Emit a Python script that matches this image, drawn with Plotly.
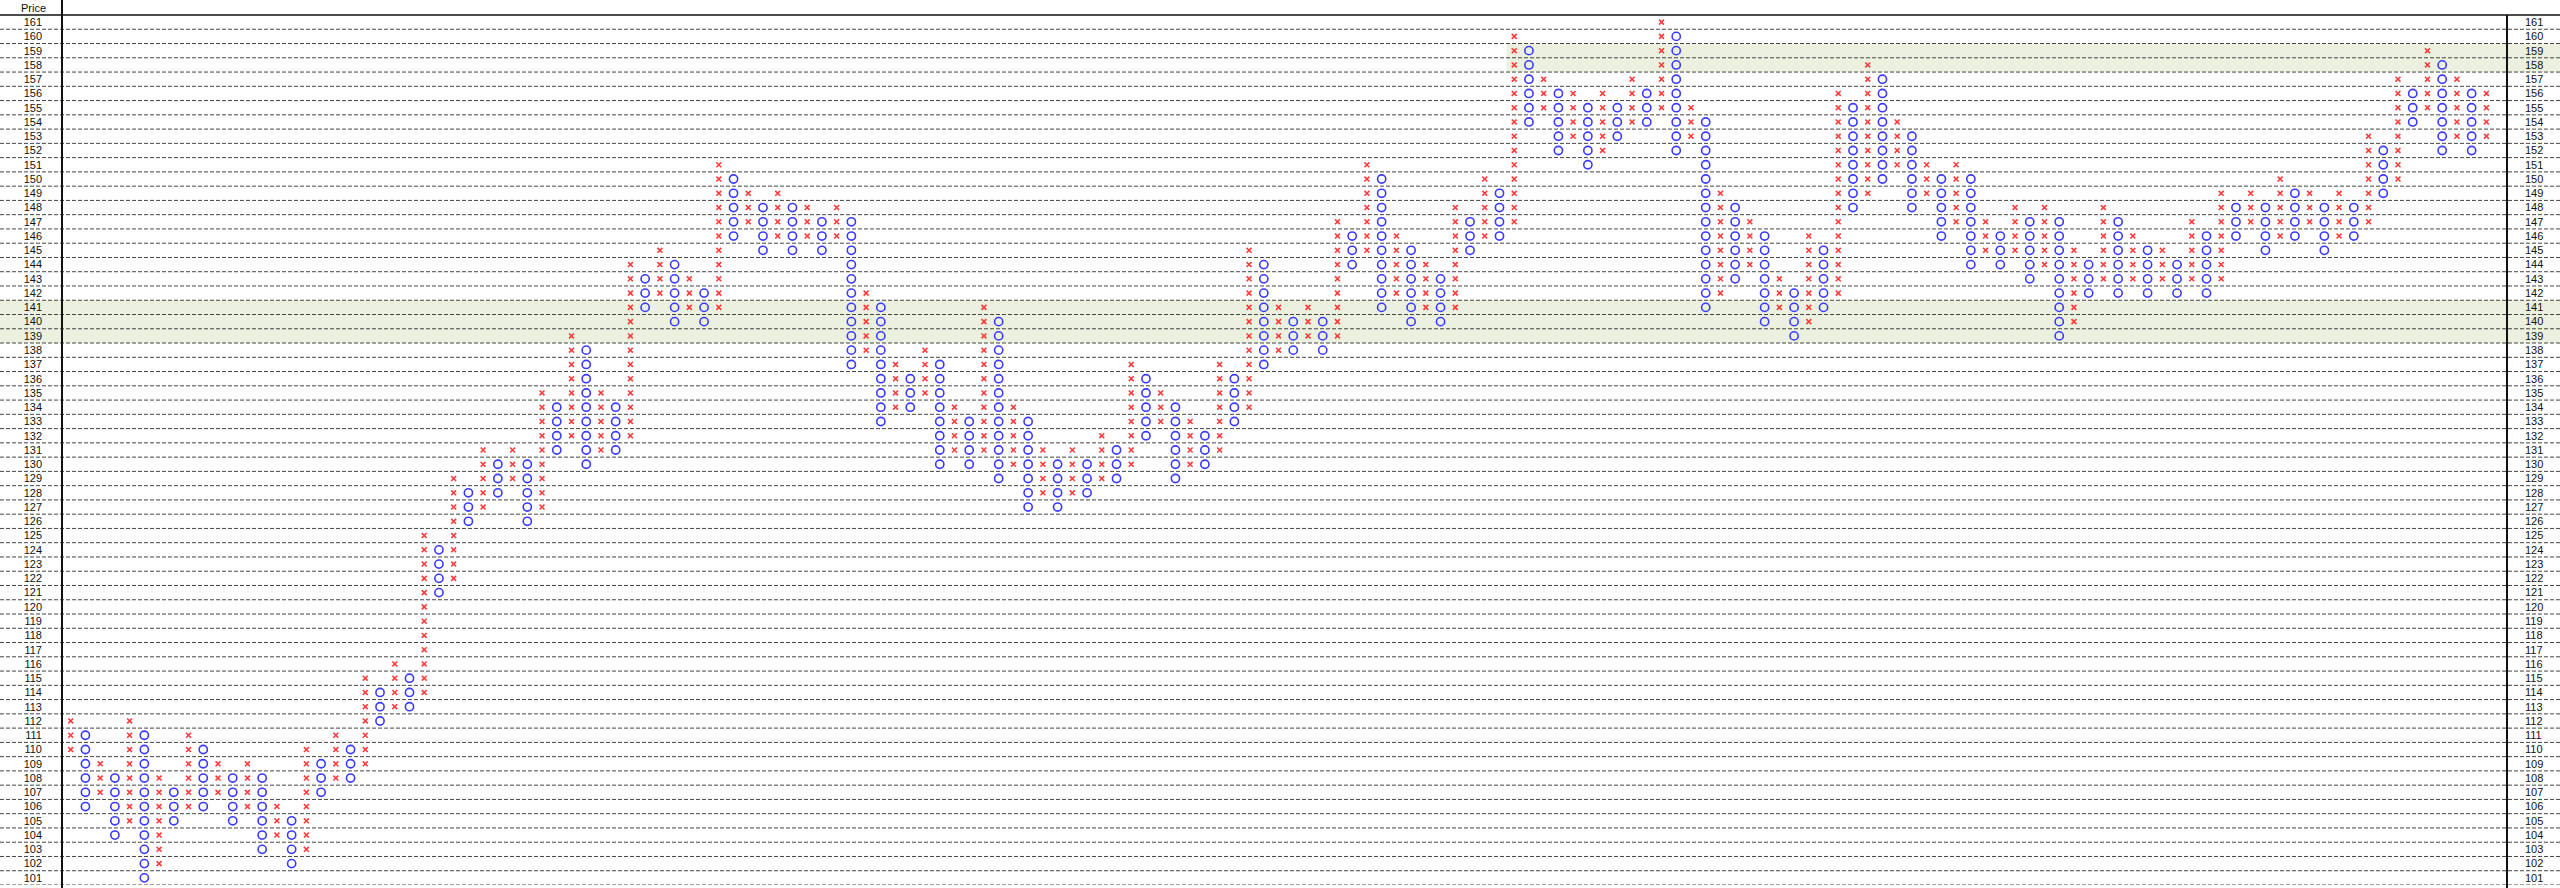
import plotly.graph_objects as go

# ---- data (Point & Figure columns, 1-point boxes) ----
col_type = ["X", "O"] * 82 + ["X"]  # alternates, starts with X, 165 columns
col_low = [
    110, 106, 107, 104, 105, 101, 102, 105, 106, 106,
    107, 105, 106, 103, 104, 102, 103, 107, 108, 108,
    109, 112, 113, 113, 114, 121, 122, 126, 127, 128,
    129, 126, 127, 131, 132, 130, 131, 131, 132, 141,
    142, 140, 141, 140, 141, 146, 147, 145, 146, 145,
    146, 145, 146, 137, 138, 133, 134, 134, 135, 130,
    131, 130, 131, 129, 130, 127, 128, 127, 128, 128,
    129, 129, 130, 132, 133, 129, 130, 130, 131, 133,
    134, 137, 138, 138, 139, 138, 139, 144, 145, 141,
    142, 140, 141, 140, 141, 145, 146, 146, 147, 154,
    155, 152, 153, 151, 152, 153, 154, 154, 155, 152,
    153, 141, 142, 143, 144, 140, 141, 139, 140, 141,
    142, 148, 149, 150, 151, 148, 149, 146, 147, 144,
    145, 144, 145, 143, 144, 139, 140, 142, 143, 142,
    143, 142, 143, 142, 143, 142, 143, 146, 147, 145,
    146, 146, 147, 145, 146, 146, 147, 149, 150, 154,
    155, 152, 153, 152, 153,
]
col_high = [
    112, 111, 109, 108, 112, 111, 108, 107, 111, 110,
    109, 108, 109, 108, 106, 105, 110, 109, 111, 110,
    115, 114, 116, 115, 125, 124, 129, 128, 131, 130,
    131, 130, 135, 134, 139, 138, 135, 134, 144, 143,
    145, 144, 143, 142, 151, 150, 149, 148, 149, 148,
    148, 147, 148, 147, 142, 141, 137, 136, 138, 137,
    134, 133, 141, 140, 134, 133, 131, 130, 131, 130,
    132, 131, 137, 136, 135, 134, 133, 132, 137, 136,
    145, 144, 141, 140, 141, 140, 147, 146, 151, 150,
    146, 145, 144, 143, 148, 147, 150, 149, 160, 159,
    157, 156, 156, 155, 156, 155, 157, 156, 161, 160,
    155, 154, 149, 148, 147, 146, 143, 142, 146, 145,
    156, 155, 158, 157, 154, 153, 151, 150, 151, 150,
    147, 146, 148, 147, 148, 147, 145, 144, 148, 147,
    146, 145, 145, 144, 147, 146, 149, 148, 149, 148,
    150, 149, 149, 148, 149, 148, 153, 152, 157, 156,
    159, 158, 157, 156, 156,
]
price_ticks = list(range(101, 162))
price_labels = [str(p) for p in price_ticks]
header_label = "Price"

# highlighted price zones: low, high, first column (None = whole width)
band_low = [139, 158]
band_high = [141, 159]
band_start_col = [None, 98]

# ---- geometry / style ----
W, H = 2560, 888
PL, PR, PT, PB = 62, 2507, 15, 885
xd0, xd1 = PL / W, PR / W
yd0, yd1 = (H - PB) / H, (H - PT) / H
x_range = [-0.59, 165.4]
y_range = [100.5, 161.5]
FONT = "Liberation Sans, Arial, sans-serif"
X_COLOR = "#ff3b3b"
O_COLOR = "#3a3aff"
BAND_COLOR = "#ebf1de"
GRID_COLOR = "#444444"


def x_to_paper(v):
    return xd0 + (v - x_range[0]) / (x_range[1] - x_range[0]) * (xd1 - xd0)


xs_x, ys_x, xs_o, ys_o = [], [], [], []
for i, (t, lo, hi) in enumerate(zip(col_type, col_low, col_high)):
    for p in range(lo, hi + 1):
        if t == "X":
            xs_x.append(i)
            ys_x.append(p)
        else:
            xs_o.append(i)
            ys_o.append(p)

fig = go.Figure()
fig.add_trace(go.Scatter(
    x=xs_x, y=ys_x, mode="markers", name="X", showlegend=False, hoverinfo="skip",
    marker=dict(symbol="x-thin-open", size=4.9, color=X_COLOR,
                line=dict(color=X_COLOR, width=1.6)),
))
fig.add_trace(go.Scatter(
    x=xs_o, y=ys_o, mode="markers", name="O", showlegend=False, hoverinfo="skip",
    marker=dict(symbol="circle-open", size=8.2, color=O_COLOR,
                line=dict(color=O_COLOR, width=1.6)),
))
# invisible trace for the right-hand axis
fig.add_trace(go.Scatter(x=[x_range[0]], y=[price_ticks[0]], yaxis="y2", mode="markers",
                         marker=dict(opacity=0), showlegend=False, hoverinfo="skip"))

shapes = []
for lo, hi, start in zip(band_low, band_high, band_start_col):
    x0 = 0 if start is None else x_to_paper(start - 0.5)
    shapes.append(dict(type="rect", xref="paper", yref="y", x0=x0, x1=1,
                       y0=lo - 0.5, y1=hi + 0.5, fillcolor=BAND_COLOR,
                       line=dict(width=0), layer="below"))
for p in price_ticks:
    shapes.append(dict(type="line", xref="paper", yref="y", x0=0, x1=1,
                       y0=p - 0.5, y1=p - 0.5,
                       line=dict(color=GRID_COLOR, width=1, dash="4px,2px"), layer="below"))
# header line and frame
shapes.append(dict(type="line", xref="paper", yref="paper", x0=0, x1=1, y0=yd1, y1=yd1,
                   line=dict(color="#111111", width=1.5), layer="above"))
shapes.append(dict(type="line", xref="paper", yref="paper", x0=xd0, x1=xd0, y0=0, y1=1,
                   line=dict(color="#111111", width=2), layer="above"))
shapes.append(dict(type="line", xref="paper", yref="paper", x0=xd1, x1=xd1, y0=0, y1=yd1,
                   line=dict(color="#111111", width=2), layer="above"))

tickfont = dict(family=FONT, size=11, color="#111111")
fig.update_layout(
    width=W, height=H, template="none",
    margin=dict(l=0, r=0, t=0, b=0, pad=0),
    paper_bgcolor="white", plot_bgcolor="rgba(0,0,0,0)",
    font=dict(family=FONT, size=11, color="#111111"),
    showlegend=False, hovermode=False,
    shapes=shapes,
    xaxis=dict(domain=[xd0, xd1], range=x_range, visible=False, fixedrange=True,
               showgrid=False, zeroline=False, automargin=False),
    yaxis=dict(domain=[yd0, yd1], range=y_range, tickvals=price_ticks, ticktext=price_labels,
               showgrid=False, zeroline=False, showline=False, ticks="", tickfont=tickfont,
               ticklabelstandoff=19, automargin=False, fixedrange=True, anchor="x"),
    yaxis2=dict(domain=[yd0, yd1], range=y_range, tickvals=price_ticks, ticktext=price_labels,
                overlaying="y", side="right", anchor="x",
                showgrid=False, zeroline=False, showline=False, ticks="", tickfont=tickfont,
                ticklabelstandoff=17, automargin=False, fixedrange=True),
    annotations=[dict(text=header_label, xref="paper", yref="paper", x=33 / W,
                      y=(H - 8) / H, showarrow=False, xanchor="center", yanchor="middle",
                      font=dict(family=FONT, size=11, color="#111111"))],
)

fig.write_html(
    "out.html",
    config={"displayModeBar": False},
    post_script="document.body.style.margin='0px';document.body.style.overflow='hidden';",
)
